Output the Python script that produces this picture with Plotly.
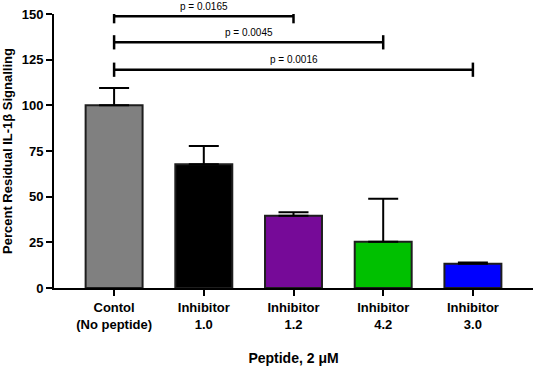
import plotly.graph_objects as go

categories = ["Contol<br>(No peptide)", "Inhibitor<br>1.0", "Inhibitor<br>1.2", "Inhibitor<br>4.2", "Inhibitor<br>3.0"]
means = [100, 67.7, 39.5, 25.3, 13.3]
errors_up = [9.5, 10.0, 2.0, 23.6, 0.6]
bar_colors = ["#808080", "#000000", "#760a98", "#00c000", "#0000ff"]
y_ticks = [0, 25, 50, 75, 100, 125, 150]

# significance comparisons: (from category index, to category index, y level, label)
comp_from = [0, 0, 0]
comp_to = [2, 3, 4]
comp_y = [148.8, 134.5, 119.5]
comp_labels = ["p = 0.0165", "p = 0.0045", "p = 0.0016"]

xs = list(range(len(categories)))

fig = go.Figure()
fig.add_trace(go.Bar(
    x=xs, y=means, width=0.635,
    marker=dict(color=bar_colors, line=dict(color="#1e1e1e", width=2)),
    error_y=dict(type="data", array=errors_up, arrayminus=[0]*len(means), symmetric=False,
                 color="#000000", thickness=2, width=15),
    showlegend=False,
    cliponaxis=False,
))

for a, b, yv, lab in zip(comp_from, comp_to, comp_y, comp_labels):
    fig.add_shape(type="line", x0=a, x1=b, y0=yv, y1=yv, xref="x", yref="y",
                  line=dict(color="#000000", width=2.5))
    for xe in (a, b):
        fig.add_shape(type="line", x0=xe, x1=xe, y0=yv - 3.9, y1=yv + 3.9, xref="x", yref="y",
                      line=dict(color="#000000", width=2.5))
    fig.add_annotation(x=(a + b) / 2, y=yv, xref="x", yref="y", text=lab, showarrow=False,
                       yshift=10, font=dict(size=10, color="#000000", family="Liberation Sans, Arial"))

fig.update_layout(
    width=536, height=366,
    margin=dict(l=54, r=3, t=14, b=78),
    paper_bgcolor="white", plot_bgcolor="white",
    font=dict(family="Liberation Sans, Arial", color="#000000"),
    bargap=0.3,
)
fig.update_xaxes(
    range=[-0.67, 4.67], tickvals=xs, ticktext=categories,
    showline=True, linecolor="#000000", linewidth=2,
    ticks="outside", ticklen=6, tickwidth=2, tickcolor="#000000",
    tickfont=dict(size=13, weight="bold"),
    showgrid=False, zeroline=False, automargin=False,
    title=dict(text="Peptide, 2 μM", font=dict(size=14, weight="bold"), standoff=23),
)
fig.update_yaxes(
    range=[0, 150], tickvals=y_ticks,
    showline=True, linecolor="#000000", linewidth=2,
    ticks="outside", ticklen=6, tickwidth=2, tickcolor="#000000",
    tickfont=dict(size=13, weight="bold"),
    showgrid=False, zeroline=False, automargin=False,
    title=dict(text="Percent Residual IL-1β Signalling", font=dict(size=13, weight="bold"), standoff=6),
)

fig.write_html("out.html", config={"displayModeBar": False},
               post_script="document.body.style.margin='0px';")
